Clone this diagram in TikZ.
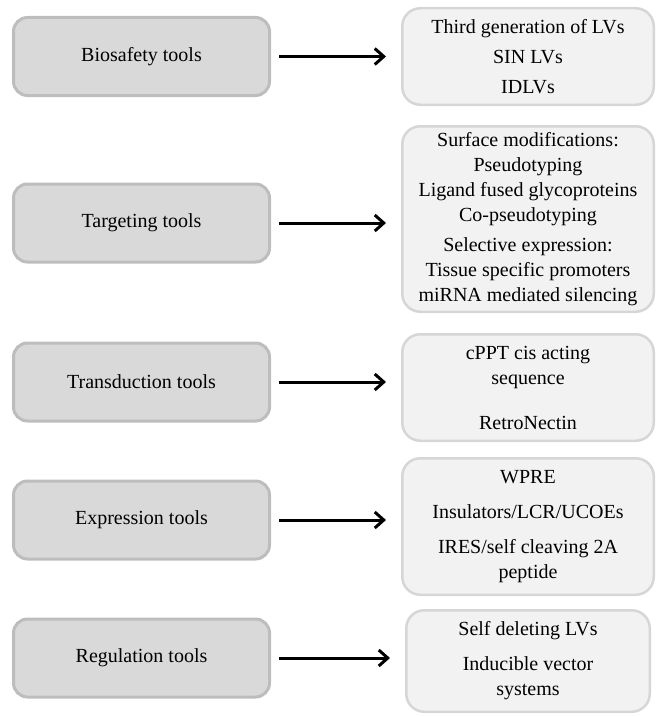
\documentclass[tikz,border=0pt]{standalone}
\usepackage{fontspec}
\setmainfont{Liberation Serif}
\usetikzlibrary{arrows.meta,positioning}
\definecolor{toolgray}{HTML}{D9D9D9}
\definecolor{toolline}{HTML}{BDBDBD}
\definecolor{listgray}{HTML}{F2F2F2}
\definecolor{listline}{HTML}{D6D6D6}

\begin{document}
\begin{tikzpicture}[
    x=1pt, y=-1pt,
    toolbox/.style={draw=toolline, fill=toolgray, line width=3pt, rounded corners=14pt,
                    minimum width=256pt, minimum height=78pt, inner sep=0pt,
                    font=\fontsize{20}{25}\selectfont},
    listbox/.style={draw=listline, fill=listgray, line width=2.5pt, rounded corners=18pt,
                    minimum width=251.5pt, inner sep=0pt, align=center,
                    font=\fontsize{20}{25}\selectfont},
    arr/.style={-{Straight Barb[length=9pt,width=16pt]}, line width=3pt,
                shorten <=8pt, shorten >=15pt},
]
\useasboundingbox (0,0) rectangle (662,717);

% Tool nodes
\node[toolbox] (bio)  at (141.5,56.5) {Biosafety tools};
\node[toolbox] (tgt)  at (141.5,223)  {Targeting tools};
\node[toolbox] (trd)  at (141.5,382)  {Transduction tools};
\node[toolbox] (expr) at (141.5,520)  {Expression tools};
\node[toolbox] (reg)  at (141.5,658)  {Regulation tools};

% Lists
\node[listbox, minimum height=96.5pt, right=130pt of bio] (biolist)
  {Third generation of LVs\\[5pt]SIN LVs\\[5pt]IDLVs};
\node[listbox, minimum height=185.5pt, right=130pt of tgt, yshift=4pt] (tgtlist)
  {Surface modifications:\\Pseudotyping\\Ligand fused glycoproteins\\Co-pseudotyping\\[5pt]
   Selective expression:\\Tissue specific promoters\\miRNA mediated silencing};
\node[listbox, minimum height=106.5pt, right=130pt of trd, yshift=-5.5pt] (trdlist)
  {cPPT cis acting\\sequence\\[20pt]RetroNectin};
\node[listbox, minimum height=136.5pt, right=130pt of expr, yshift=-6.5pt] (exprlist)
  {WPRE\\[10pt]Insulators/LCR/UCOEs\\[10pt]IRES/self cleaving 2A\\peptide};
\node[listbox, minimum height=101.5pt, minimum width=243.5pt, right=134pt of reg,
      yshift=-3pt] (reglist)
  {Self deleting LVs\\[10pt]Inducible vector\\systems};

% Arrows
\draw[arr] (bio.east)  -- (bio.east -| biolist.west);
\draw[arr] (tgt.east)  -- (tgt.east -| tgtlist.west);
\draw[arr] (trd.east)  -- (trd.east -| trdlist.west);
\draw[arr] (expr.east) -- (expr.east -| exprlist.west);
\draw[arr] (reg.east)  -- (reg.east -| reglist.west);
\end{tikzpicture}
\end{document}
